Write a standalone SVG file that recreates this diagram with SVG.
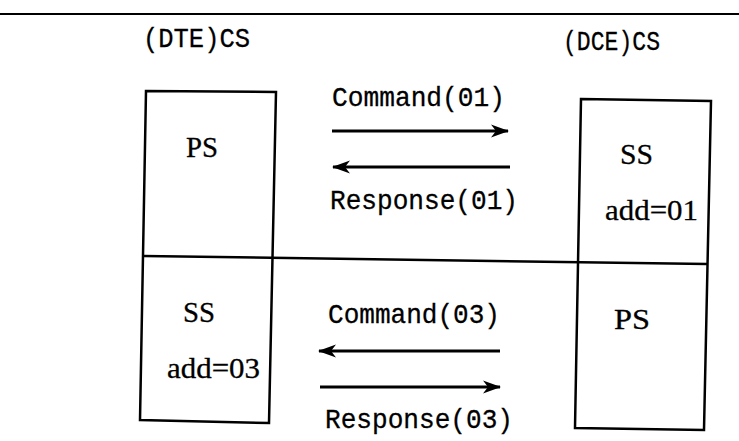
<svg xmlns="http://www.w3.org/2000/svg" width="739" height="441" viewBox="0 0 739 441">
  <style>
    .frame { fill: none; stroke: #000; stroke-width: 2.5; stroke-linejoin: miter; }
    .rule { stroke: #000; stroke-width: 1.8; }
    .mono { font-family: "Liberation Mono", "DejaVu Sans Mono", monospace; font-size: 28px; fill: #000; stroke: #000; stroke-width: 0.3; }
    .serif { font-family: "Liberation Serif", "DejaVu Serif", serif; font-size: 30px; fill: #000; stroke: #000; stroke-width: 0.3; }
    .msg { stroke: #000; stroke-width: 3.2; fill: none; }
  </style>
  <defs>
    <marker id="head" markerUnits="userSpaceOnUse" markerWidth="20" markerHeight="16" refX="17" refY="8" orient="auto">
      <path d="M0,1.5 L18,8 L0,14.5 L5,8 Z" fill="#000"/>
    </marker>
  </defs>

  <rect width="739" height="441" fill="#fff"/>

  <!-- top rule -->
  <line class="rule" x1="0" y1="14" x2="739" y2="14"/>

  <!-- station captions -->
  <text class="mono" x="143" y="47" textLength="107" lengthAdjust="spacingAndGlyphs">(DTE)CS</text>
  <text class="mono" x="563" y="50" textLength="97" lengthAdjust="spacingAndGlyphs">(DCE)CS</text>

  <!-- DTE station -->
  <g id="dte">
    <polygon class="frame" points="146,91 276,92 269,423 140,420"/>
    <text class="serif" x="186" y="157" textLength="32" lengthAdjust="spacingAndGlyphs">PS</text>
    <text class="serif" x="183" y="322" textLength="32" lengthAdjust="spacingAndGlyphs">SS</text>
    <text class="serif" x="167" y="378" textLength="93" lengthAdjust="spacingAndGlyphs">add=03</text>
  </g>

  <!-- DCE station -->
  <g id="dce">
    <polygon class="frame" points="581,99 711,101 704,430 575,428"/>
    <text class="serif" x="620" y="164" textLength="33" lengthAdjust="spacingAndGlyphs">SS</text>
    <text class="serif" x="605" y="220" textLength="93" lengthAdjust="spacingAndGlyphs">add=01</text>
    <text class="serif" x="614" y="329" textLength="36" lengthAdjust="spacingAndGlyphs">PS</text>
  </g>

  <!-- divider between the two exchanges -->
  <line class="frame" x1="144" y1="256" x2="707" y2="264"/>

  <!-- message flows -->
  <g id="connectors">
    <line class="msg" x1="332" y1="131" x2="508" y2="131" marker-end="url(#head)"/>
    <line class="msg" x1="510" y1="167" x2="333" y2="167" marker-end="url(#head)"/>
    <line class="msg" x1="500" y1="351" x2="319" y2="351" marker-end="url(#head)"/>
    <line class="msg" x1="320" y1="387" x2="500" y2="387" marker-end="url(#head)"/>
  </g>

  <g id="labels">
    <text class="mono" x="332" y="106" textLength="173" lengthAdjust="spacingAndGlyphs">Command(01)</text>
    <text class="mono" x="330" y="209" textLength="188" lengthAdjust="spacingAndGlyphs">Response(01)</text>
    <text class="mono" x="328" y="323" textLength="172" lengthAdjust="spacingAndGlyphs">Command(03)</text>
    <text class="mono" x="325" y="428" textLength="188" lengthAdjust="spacingAndGlyphs">Response(03)</text>
  </g>
</svg>
